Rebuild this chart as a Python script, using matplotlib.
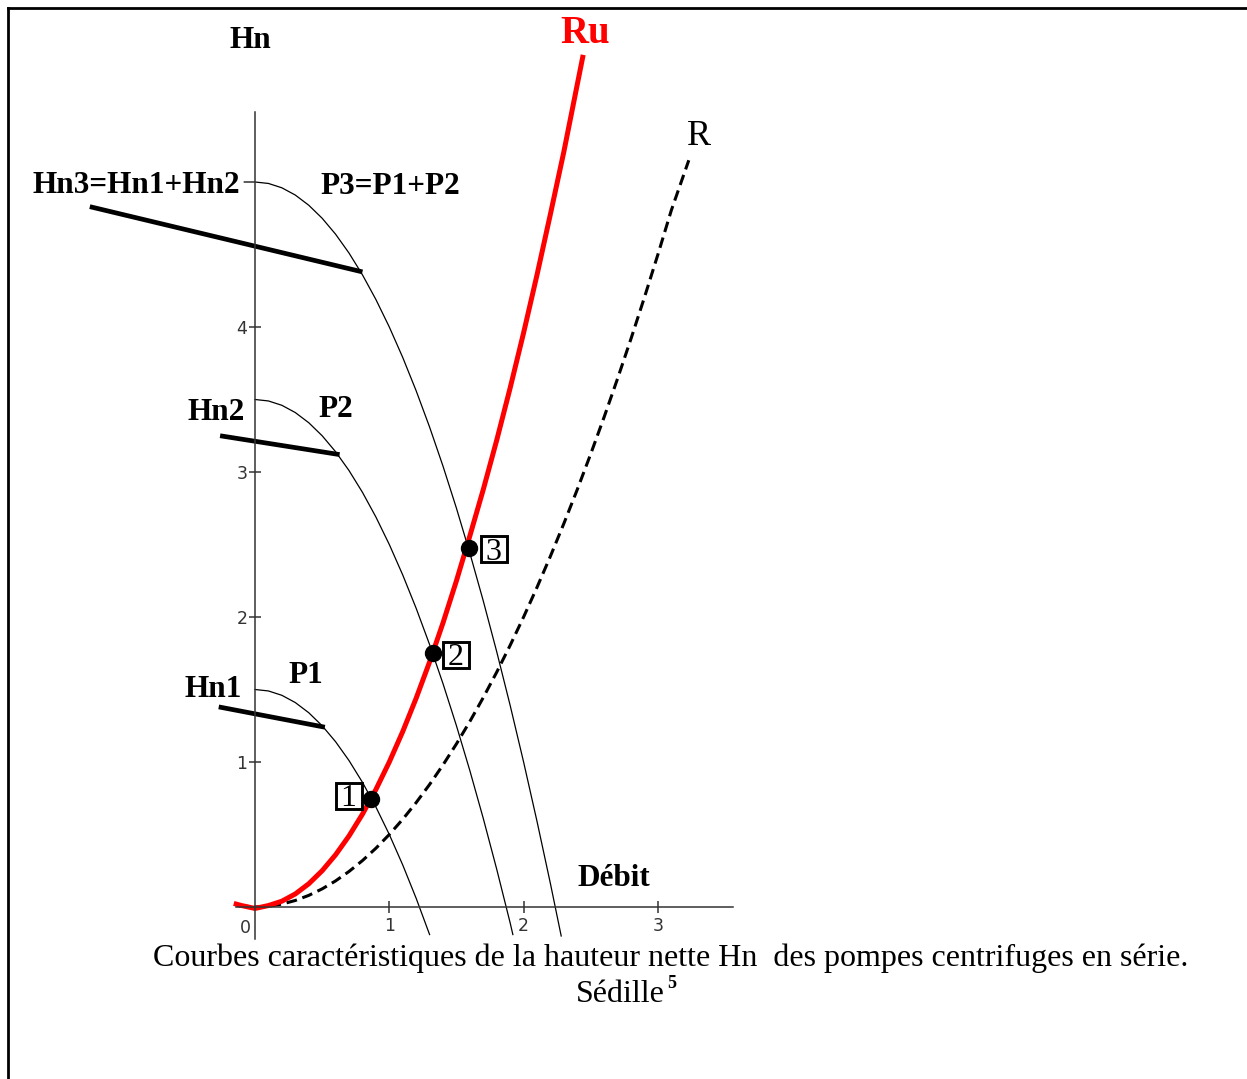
import matplotlib
matplotlib.use("Agg")
import matplotlib.pyplot as plt
from matplotlib.lines import Line2D

# pump curves P1, P2, P3 (Hn vs debit)
q_p1 = [0.0, 0.1, 0.2, 0.3, 0.4, 0.5, 0.6, 0.7, 0.8, 0.9, 1.0, 1.1, 1.2, 1.3]
h_p1 = [1.50, 1.49, 1.46, 1.41, 1.34, 1.25, 1.14, 1.01, 0.86, 0.69, 0.50, 0.29, 0.06, -0.19]

q_p2 = [0.0, 0.1, 0.2, 0.3, 0.4, 0.5, 0.6, 0.7, 0.8, 0.9, 1.0, 1.1, 1.2, 1.3,
        1.4, 1.5, 1.6, 1.7, 1.8, 1.9, 1.92]
h_p2 = [3.50, 3.49, 3.46, 3.41, 3.34, 3.25, 3.14, 3.01, 2.86, 2.69, 2.50, 2.29,
        2.06, 1.81, 1.54, 1.25, 0.94, 0.61, 0.26, -0.11, -0.19]

q_p3 = [-0.08, 0.0, 0.1, 0.2, 0.3, 0.4, 0.5, 0.6, 0.7, 0.8, 0.9, 1.0, 1.1, 1.2,
        1.3, 1.4, 1.5, 1.6, 1.7, 1.8, 1.9, 2.0, 2.1, 2.2, 2.28]
h_p3 = [5.00, 5.00, 4.99, 4.96, 4.91, 4.84, 4.75, 4.64, 4.51, 4.36, 4.19, 4.00,
        3.79, 3.56, 3.31, 3.04, 2.75, 2.44, 2.11, 1.76, 1.39, 1.00, 0.59, 0.16, -0.20]

# network curves Ru (red) and R (dashed)
q_ru = [-0.14, -0.1, 0.0, 0.1, 0.2, 0.3, 0.4, 0.5, 0.6, 0.7, 0.8, 0.9, 1.0, 1.1,
        1.2, 1.3, 1.4, 1.5, 1.6, 1.7, 1.8, 1.9, 2.0, 2.1, 2.2, 2.3, 2.44]
h_ru = [0.02, 0.01, -0.01, 0.01, 0.04, 0.09, 0.16, 0.25, 0.36, 0.49, 0.64, 0.81,
        1.00, 1.21, 1.44, 1.69, 1.96, 2.25, 2.56, 2.88, 3.22, 3.58, 3.96, 4.36,
        4.78, 5.21, 5.86]

q_r = [-0.13, 0.0, 0.1, 0.2, 0.3, 0.4, 0.5, 0.6, 0.7, 0.8, 0.9, 1.0, 1.1, 1.2,
       1.3, 1.4, 1.5, 1.6, 1.7, 1.8, 1.9, 2.0, 2.1, 2.2, 2.3, 2.4, 2.5, 2.6,
       2.7, 2.8, 2.9, 3.0, 3.1, 3.23]
h_r = [0.01, 0.0, 0.005, 0.02, 0.045, 0.08, 0.125, 0.18, 0.245, 0.32, 0.405,
       0.50, 0.605, 0.72, 0.845, 0.98, 1.125, 1.28, 1.445, 1.62, 1.805, 2.00,
       2.205, 2.42, 2.645, 2.88, 3.125, 3.38, 3.645, 3.92, 4.205, 4.50, 4.805, 5.15]

# thick tangent segments at the shut-off heads
tan_hn1 = ([-0.27, 0.52], [1.38, 1.24])
tan_hn2 = ([-0.26, 0.63], [3.25, 3.12])
tan_hn3 = ([-1.23, 0.80], [4.83, 4.38])

# operating points 1, 2, 3
op_q = [0.864, 1.325, 1.596]
op_h = [0.745, 1.752, 2.476]
op_labels = ["1", "2", "3"]

x_ticks = [1, 2, 3]
y_ticks = [1, 2, 3, 4]

W, H = 1247, 1079
ox, oy = 255, 907          # pixel position of the origin
sx, sy = 134.3, 145.0      # pixels per unit
xlim = (-1.5, 3.8)
ylim = (-0.3, 6.2)

def px(x, y):
    return (x - ox) / sx, (oy - y) / sy

fig = plt.figure(figsize=(W / 100, H / 100), dpi=100)
l = ox + xlim[0] * sx
r = ox + xlim[1] * sx
t = oy - ylim[1] * sy
b = oy - ylim[0] * sy
ax = fig.add_axes([l / W, 1 - b / H, (r - l) / W, (b - t) / H])
ax.set_xlim(*xlim)
ax.set_ylim(*ylim)
ax.patch.set_alpha(0)

for s in ["top", "right"]:
    ax.spines[s].set_visible(False)
ax.spines["left"].set_position(("data", 0))
ax.spines["bottom"].set_position(("data", 0))
ax.spines["left"].set_bounds(-0.22, 5.48)
ax.spines["bottom"].set_bounds(-0.14, 3.56)
for s in ["left", "bottom"]:
    ax.spines[s].set_color("#333333")
    ax.spines[s].set_linewidth(1.1)
ax.set_xticks(x_ticks)
ax.set_yticks(y_ticks)
ax.set_xticklabels([str(v) for v in x_ticks])
ax.set_yticklabels([str(v) for v in y_ticks])
ax.tick_params(direction="inout", length=9, width=1.1, color="#333333",
               labelcolor="#333333", labelsize=12.5)
ax.tick_params(axis="x", pad=3)
ax.tick_params(axis="y", pad=1)
ax.text(*px(245, 928), "0", fontsize=12.5, color="#333333", ha="center", va="center")

# curves
for q, h in [(q_p1, h_p1), (q_p2, h_p2), (q_p3, h_p3)]:
    ax.plot(q, h, color="black", lw=0.9, clip_on=False)
for q, h in [tan_hn1, tan_hn2, tan_hn3]:
    ax.plot(q, h, color="black", lw=3.4, solid_capstyle="butt", clip_on=False)
ax.plot(q_r, h_r, color="black", lw=2.2, dashes=(3.5, 1.9), clip_on=False)
ax.plot(q_ru, h_ru, color="#ff0000", lw=3.6, clip_on=False)
ax.plot(op_q, op_h, "o", color="black", ms=11.5, zorder=5)

# boxed point numbers (box centre in pixels)
box_pos = [(348.5, 795.5), (456, 654.5), (493.5, 549)]
for (bx, by), lab in zip(box_pos, op_labels):
    ax.plot(*px(bx, by), marker="s", ms=19, mfc="white", mec="black", mew=2.1, zorder=4)
    ax.text(*px(bx, by + 10.5), lab, family="Liberation Serif", fontsize=23,
            ha="center", va="baseline", zorder=6)

bold = dict(family="Liberation Serif", fontweight="bold", fontsize=22.5,
            va="baseline", color="black")
ax.text(*px(250, 48), "Hn", ha="center", **bold)
ax.text(*px(240, 193), "Hn3=Hn1+Hn2", ha="right", **bold)
ax.text(*px(320, 194), "P3=P1+P2", ha="left", **bold)
ax.text(*px(245, 420), "Hn2", ha="right", **bold)
ax.text(*px(318, 417), "P2", ha="left", **bold)
ax.text(*px(242, 697), "Hn1", ha="right", **bold)
ax.text(*px(288, 683), "P1", ha="left", **bold)
ax.text(*px(577, 886), "Débit", ha="left", **bold)
ax.text(*px(585, 43), "Ru", family="Liberation Serif", fontweight="bold",
        fontsize=28, color="#ff0000", ha="center", va="baseline")
ax.text(*px(699, 145), "R", family="Liberation Serif", fontsize=26,
        color="black", ha="center", va="baseline")

# caption
fig.text(671 / W, 1 - 966 / H,
         "Courbes caractéristiques de la hauteur nette Hn  des pompes centrifuges en série.",
         family="Liberation Serif", fontsize=23, ha="center", va="baseline")
fig.text(665 / W, 1 - 1002 / H, "Sédille", family="Liberation Serif",
         fontsize=23, ha="right", va="baseline")
fig.text(667 / W, 1 - 988 / H, "5", family="Liberation Serif", fontweight="bold",
         fontsize=13, ha="left", va="baseline")

# frame around the figure (left and top edges)
fig.add_artist(Line2D([7.5 / W, 7.5 / W], [0, 1 - 7.5 / H], color="black", lw=2))
fig.add_artist(Line2D([7.5 / W, 1], [1 - 7.5 / H, 1 - 7.5 / H], color="black", lw=2))

fig.savefig("out.png", dpi=100)
